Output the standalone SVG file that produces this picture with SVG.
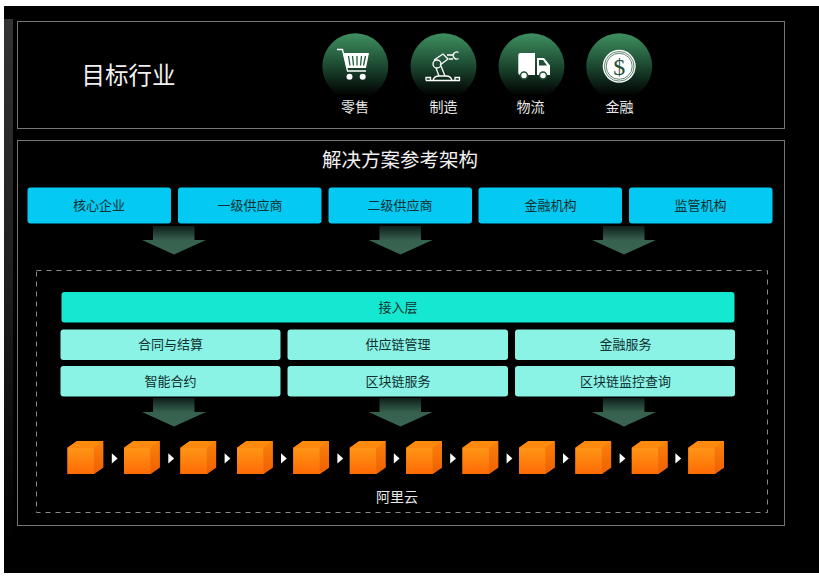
<svg xmlns="http://www.w3.org/2000/svg" width="819" height="578" viewBox="0 0 819 578">
<style>
text{font-family:"Noto Sans CJK SC","Liberation Sans",sans-serif;text-anchor:middle}
.panel{fill:none;stroke:#757575;stroke-width:1}
.lab{fill:#e8e8e8;font-size:14px}
.blue{fill:#03c9f3}
.mint{fill:#8af3e6}
.dk{fill:#10302f;font-size:13px}
.ic{fill:#fff}
.icl{fill:none;stroke:#fff;stroke-width:1.300}
</style>
<defs>
<linearGradient id="gc" x1="0" y1="0" x2="0" y2="1"><stop offset="0" stop-color="#3f9060"/><stop offset="0.45" stop-color="#1f4f35"/><stop offset="0.95" stop-color="#000"/></linearGradient>
<linearGradient id="ga" x1="0" y1="0" x2="0" y2="1"><stop offset="0" stop-color="#0e1f1a"/><stop offset="0.5" stop-color="#37614f"/><stop offset="1" stop-color="#3a6552"/></linearGradient>
<linearGradient id="gf" x1="0" y1="0" x2="0" y2="1"><stop offset="0" stop-color="#ff9616"/><stop offset="1" stop-color="#ff6a05"/></linearGradient>
<linearGradient id="gs" x1="0" y1="0" x2="0" y2="1"><stop offset="0" stop-color="#fa820c"/><stop offset="1" stop-color="#ef5f02"/></linearGradient>
<linearGradient id="gl" x1="0" y1="0" x2="0" y2="1"><stop offset="0" stop-color="#333"/><stop offset="0.5" stop-color="#1e1e1e"/><stop offset="1" stop-color="#000"/></linearGradient>
<path id="arrow" d="M-21 0H20.500V14H32L0 28.500L-32 14H-21Z" fill="url(#ga)"/>
<g id="cube"><path d="M0 6.700L9.500 0H35.700V26.500L26.400 33H0Z" fill="#fb7d0a"/><path d="M0 6.700H26.400V33H0Z" fill="url(#gf)"/><path d="M0 6.700L9.500 0H35.700L26.400 6.700Z" fill="#ff8a0e"/><path d="M26.400 6.700L35.700 0V26.500L26.400 33Z" fill="url(#gs)"/></g>
<path id="tri" d="M0 0L5.800 5.100L0 10.200Z" fill="#fff"/>
</defs>
<rect width="819" height="578" fill="#fff"/>
<rect x="4" y="6" width="815" height="567" fill="#000"/>
<rect x="4" y="19" width="9" height="528" fill="url(#gl)"/>
<g id="industry-panel">
<rect class="panel" x="17.500" y="21.500" width="767" height="107"/>
<text x="128.500" y="84" fill="#f0f0f0" font-size="23.500">目标行业</text>
</g>
<g id="retail">
<circle cx="355.300" cy="66.300" r="33" fill="url(#gc)"/>
<path class="icl" d="M337 49.500H342.500L347.500 71H366" stroke-width="1.500"/>
<path class="ic" d="M343 53H369L366 68H346.500Z"/>
<path d="M348.500 56L350 65.500M352.500 56L353.500 65.500M357 56V65.500M361.500 56L360.500 65.500M365.500 56L363.500 65.500" stroke="#1f5a3a" stroke-width="1.300"/>
<circle class="ic" cx="349.500" cy="76.700" r="3"/><circle class="ic" cx="362.700" cy="76.700" r="3"/>
<text class="lab" x="355" y="112">零售</text>
</g>
<g id="manufacturing">
<circle cx="443.500" cy="66.300" r="33" fill="url(#gc)"/>
<path class="icl" d="M426 80.500H460M426 80.500V77.500H430.500V80.500M455 80.500V77.500H459.500V80.500M433 80.500Q434 76 439 76H446Q451 76 452 80.500"/>
<circle class="icl" cx="437" cy="64" r="4"/>
<path class="icl" d="M434 60L443 54L448 59L440 65M436 68L439 76M441 66L445 76M447 55H453M449 59H453"/>
<path class="icl" d="M458.500 52.500A3.500 3.500 0 1 0 458.500 58.500"/>
<text class="lab" x="443.500" y="112">制造</text>
</g>
<g id="logistics">
<circle cx="531.500" cy="66.300" r="33" fill="url(#gc)"/>
<path class="ic" d="M520.500 53H535V75H520.500Q518.300 75 518.300 73V55Q518.300 53 520.500 53ZM537 58H544L550 65.500V75H537Z"/>
<path d="M539 60H543L547 65.500H539Z" fill="#1f4f35"/>
<circle cx="524" cy="75.500" r="3.500" fill="#fff" stroke="#1f4f35" stroke-width="1.500"/>
<circle cx="543" cy="75.500" r="3.500" fill="#fff" stroke="#1f4f35" stroke-width="1.500"/>
<text class="lab" x="530.500" y="112">物流</text>
</g>
<g id="finance">
<circle cx="619.200" cy="66.300" r="33" fill="url(#gc)"/>
<circle cx="619.200" cy="66.300" r="16.500" fill="#fff"/>
<circle cx="619.200" cy="66.300" r="14.800" fill="none" stroke="#1f4f35" stroke-width="0.700"/>
<circle cx="619.200" cy="66.300" r="13" fill="none" stroke="#1f4f35" stroke-width="0.700"/>
<text x="619.200" y="74.500" fill="#1f4f35" font-size="24" style="font-family:'Liberation Serif',serif">$</text>
<text class="lab" x="619.500" y="112">金融</text>
</g>
<g id="solution-panel">
<rect class="panel" x="17.500" y="140.500" width="767" height="385"/>
<text x="400" y="167" fill="#f0f0f0" font-size="19.500">解决方案参考架构</text>
<rect x="36.500" y="270.500" width="731" height="242" fill="none" stroke="#8a8a8a" stroke-dasharray="5 5"/>
<text class="lab" x="397" y="502">阿里云</text>
</g>
<g id="core"><rect class="blue" x="27.500" y="187.500" width="143.500" height="36" rx="3"/><text class="dk" x="99" y="210">核心企业</text></g>
<g id="tier1"><rect class="blue" x="178" y="187.500" width="143.500" height="36" rx="3"/><text class="dk" x="250" y="210">一级供应商</text></g>
<g id="tier2"><rect class="blue" x="328.500" y="187.500" width="143.500" height="36" rx="3"/><text class="dk" x="400" y="210">二级供应商</text></g>
<g id="fin-inst"><rect class="blue" x="478.500" y="187.500" width="143.500" height="36" rx="3"/><text class="dk" x="550.500" y="210">金融机构</text></g>
<g id="regulator"><rect class="blue" x="629" y="187.500" width="143.500" height="36" rx="3"/><text class="dk" x="700.500" y="210">监管机构</text></g>
<g id="access"><rect x="61.500" y="292" width="673" height="30.500" rx="3" fill="#15e8d0"/><text class="dk" x="398" y="312">接入层</text></g>
<g id="contract"><rect class="mint" x="60.500" y="329.500" width="220" height="30.500" rx="3"/><text class="dk" x="170.500" y="349">合同与结算</text></g>
<g id="scm"><rect class="mint" x="287.500" y="329.500" width="220.500" height="30.500" rx="3"/><text class="dk" x="398" y="349">供应链管理</text></g>
<g id="finsvc"><rect class="mint" x="515" y="329.500" width="220" height="30.500" rx="3"/><text class="dk" x="625.500" y="349">金融服务</text></g>
<g id="smart"><rect class="mint" x="60.500" y="366" width="220" height="30.500" rx="3"/><text class="dk" x="170.500" y="386">智能合约</text></g>
<g id="bcs"><rect class="mint" x="287.500" y="366" width="220.500" height="30.500" rx="3"/><text class="dk" x="398" y="386">区块链服务</text></g>
<g id="monitor"><rect class="mint" x="515" y="366" width="220" height="30.500" rx="3"/><text class="dk" x="625.500" y="386">区块链监控查询</text></g>
<g id="connectors">
<use href="#arrow" x="174" y="226"/><use href="#arrow" x="400.500" y="226"/><use href="#arrow" x="624" y="226"/>
<use href="#arrow" x="174" y="398"/><use href="#arrow" x="400.500" y="398"/><use href="#arrow" x="624" y="398"/>
<use href="#tri" x="111.800" y="453.300"/><use href="#tri" x="168.300" y="453.300"/><use href="#tri" x="224.600" y="453.300"/><use href="#tri" x="281" y="453.300"/><use href="#tri" x="337.400" y="453.300"/><use href="#tri" x="393.800" y="453.300"/><use href="#tri" x="450.200" y="453.300"/><use href="#tri" x="506.600" y="453.300"/><use href="#tri" x="563" y="453.300"/><use href="#tri" x="619.600" y="453.300"/><use href="#tri" x="675.400" y="453.300"/>
</g>
<g id="chain">
<use href="#cube" x="67.500" y="441"/><use href="#cube" x="124" y="441"/><use href="#cube" x="180.400" y="441"/><use href="#cube" x="237" y="441"/><use href="#cube" x="293.300" y="441"/><use href="#cube" x="349.800" y="441"/><use href="#cube" x="406.200" y="441"/><use href="#cube" x="462.500" y="441"/><use href="#cube" x="519" y="441"/><use href="#cube" x="575.400" y="441"/><use href="#cube" x="631.800" y="441"/><use href="#cube" x="688.300" y="441"/>
</g>
</svg>
